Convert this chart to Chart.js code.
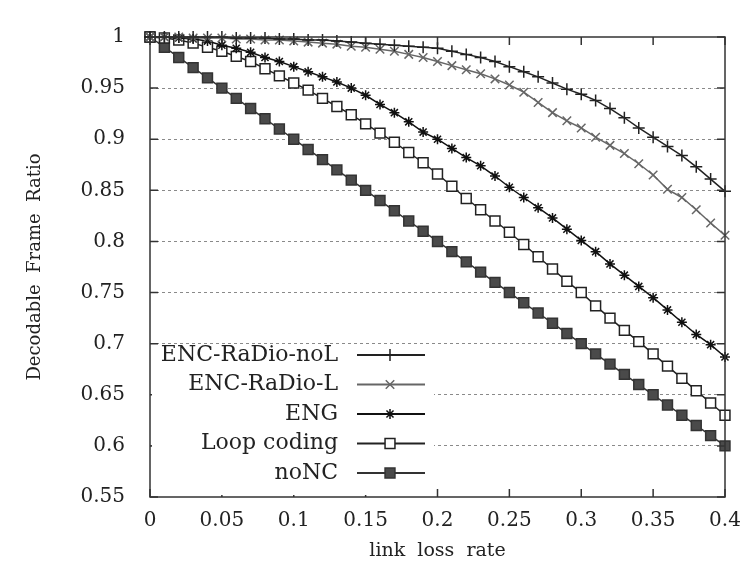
<!DOCTYPE html>
<html>
<head>
<meta charset="utf-8">
<script src="https://cdn.jsdelivr.net/npm/chart.js@4/dist/chart.umd.min.js"></script>
<style>
  body { margin: 0; background: #fff; }
  canvas { display: block; }
</style>
</head>
<body>
<canvas id="ratio" width="753" height="562"></canvas>
<script>
// link loss rate, one point every 0.01
const lossRate = [0, 0.01, 0.02, 0.03, 0.04, 0.05, 0.06, 0.07, 0.08, 0.09,
    0.1, 0.11, 0.12, 0.13, 0.14, 0.15, 0.16, 0.17, 0.18, 0.19,
    0.2, 0.21, 0.22, 0.23, 0.24, 0.25, 0.26, 0.27, 0.28, 0.29,
    0.3, 0.31, 0.32, 0.33, 0.34, 0.35, 0.36, 0.37, 0.38, 0.39, 0.4]

const encNoL = [1.000, 1.000, 1.000, 1.000, 1.000, 1.000, 0.999, 0.999, 0.999, 0.998,
    0.998, 0.997, 0.997, 0.996, 0.995, 0.994, 0.993, 0.992, 0.991, 0.990,
    0.989, 0.986, 0.983, 0.980, 0.976, 0.971, 0.966, 0.961, 0.955, 0.949,
    0.944, 0.938, 0.930, 0.921, 0.911, 0.902, 0.893, 0.884, 0.873, 0.861, 0.849]
const encL = [1.000, 1.000, 1.000, 0.999, 0.999, 0.999, 0.998, 0.998, 0.997, 0.997,
    0.996, 0.995, 0.994, 0.993, 0.991, 0.990, 0.988, 0.986, 0.983, 0.980,
    0.976, 0.972, 0.968, 0.964, 0.959, 0.953, 0.946, 0.936, 0.926, 0.918,
    0.911, 0.902, 0.894, 0.886, 0.876, 0.865, 0.851, 0.843, 0.831, 0.818, 0.806]
const eng = [1.000, 1.000, 0.999, 0.998, 0.996, 0.992, 0.989, 0.985, 0.980, 0.976,
    0.971, 0.966, 0.961, 0.956, 0.950, 0.943, 0.934, 0.926, 0.917, 0.907,
    0.900, 0.891, 0.882, 0.874, 0.864, 0.853, 0.843, 0.833, 0.823, 0.812,
    0.801, 0.790, 0.778, 0.767, 0.756, 0.745, 0.733, 0.721, 0.709, 0.699, 0.687]
const loopCoding = [1.000, 0.999, 0.997, 0.994, 0.990, 0.986, 0.981, 0.976, 0.969, 0.962,
    0.955, 0.948, 0.940, 0.932, 0.924, 0.915, 0.906, 0.897, 0.887, 0.877,
    0.866, 0.854, 0.842, 0.831, 0.820, 0.809, 0.797, 0.785, 0.773, 0.761,
    0.750, 0.737, 0.725, 0.713, 0.702, 0.690, 0.678, 0.666, 0.654, 0.642, 0.630]
const noNC = [1.00, 0.99, 0.98, 0.97, 0.96, 0.95, 0.94, 0.93, 0.92, 0.91,
    0.90, 0.89, 0.88, 0.87, 0.86, 0.85, 0.84, 0.83, 0.82, 0.81,
    0.80, 0.79, 0.78, 0.77, 0.76, 0.75, 0.74, 0.73, 0.72, 0.71,
    0.70, 0.69, 0.68, 0.67, 0.66, 0.65, 0.64, 0.63, 0.62, 0.61, 0.60]

const xTickLabels = ['0', '0.05', '0.1', '0.15', '0.2', '0.25', '0.3', '0.35', '0.4']
const yTickLabels = ['0.55', '0.6', '0.65', '0.7', '0.75', '0.8', '0.85', '0.9', '0.95', '1']

const toPoints = (ys) => ys.map((y, i) => ({ x: lossRate[i], y: y }))

Chart.defaults.font.family = '"DejaVu Serif", serif'
Chart.defaults.color = '#222'

// frame with gnuplot style inward ticks
const framePlugin = {
    id: 'frame',
    afterDatasetsDraw(chart) {
        const ctx = chart.ctx
        const a = chart.chartArea
        const xs = chart.scales.x
        const ys = chart.scales.y
        ctx.save()
        ctx.strokeStyle = '#333'
        ctx.lineWidth = 1.5
        ctx.beginPath()
        xs.ticks.forEach((t) => {
            const px = xs.getPixelForValue(t.value)
            ctx.moveTo(px, a.bottom); ctx.lineTo(px, a.bottom - 8)
            ctx.moveTo(px, a.top); ctx.lineTo(px, a.top + 8)
        })
        ys.ticks.forEach((t) => {
            const py = ys.getPixelForValue(t.value)
            ctx.moveTo(a.left, py); ctx.lineTo(a.left + 8, py)
            ctx.moveTo(a.right, py); ctx.lineTo(a.right - 8, py)
        })
        ctx.stroke()
        ctx.strokeRect(a.left, a.top, a.right - a.left, a.bottom - a.top)
        ctx.restore()
    },
}

// legend inside the plot, text on the left of the sample
const legendPlugin = {
    id: 'insideLegend',
    afterDatasetsDraw(chart) {
        const ctx = chart.ctx
        const a = chart.chartArea
        ctx.save()
        ctx.fillStyle = '#fff'
        ctx.fillRect(a.left + 2, a.bottom - 150, 282, 148)
        chart.data.datasets.forEach((ds, i) => {
            const y = a.bottom - 142 + i * 29.5
            ctx.font = '22px "DejaVu Serif"'
            ctx.textAlign = 'right'
            ctx.textBaseline = 'middle'
            ctx.fillStyle = '#222'
            ctx.fillText(ds.label, a.left + 188, y)
            ctx.strokeStyle = ds.borderColor
            ctx.lineWidth = 2
            ctx.beginPath()
            ctx.moveTo(a.left + 207, y)
            ctx.lineTo(a.left + 275, y)
            ctx.stroke()
            ctx.fillStyle = ds.pointBackgroundColor
            ctx.strokeStyle = ds.pointBorderColor
            ctx.lineWidth = 1.5
            Chart.helpers.drawPoint(ctx, {
                pointStyle: ds.pointStyle,
                radius: ds.pointRadius,
                borderWidth: 1.5,
                rotation: 0,
            }, a.left + 240, y)
        })
        ctx.restore()
    },
}

const lineConfig = {
    type: 'line',
    data: {
        datasets: [
            {
                label: 'ENC-RaDio-noL',
                data: toPoints(encNoL),
                borderColor: '#222',
                pointBorderColor: '#222',
                pointBackgroundColor: '#222',
                pointStyle: 'cross',
                pointRadius: 6,
            },
            {
                label: 'ENC-RaDio-L',
                data: toPoints(encL),
                borderColor: '#666',
                pointBorderColor: '#666',
                pointBackgroundColor: '#666',
                pointStyle: 'crossRot',
                pointRadius: 6,
            },
            {
                label: 'ENG',
                data: toPoints(eng),
                borderColor: '#111',
                pointBorderColor: '#111',
                pointBackgroundColor: '#111',
                pointStyle: 'star',
                pointRadius: 5,
            },
            {
                label: 'Loop coding',
                data: toPoints(loopCoding),
                borderColor: '#222',
                pointBorderColor: '#222',
                pointBackgroundColor: '#fff',
                pointStyle: 'rect',
                pointRadius: 7,
            },
            {
                label: 'noNC',
                data: toPoints(noNC),
                borderColor: '#333',
                pointBorderColor: '#333',
                pointBackgroundColor: '#4a4a4a',
                pointStyle: 'rect',
                pointRadius: 7,
            },
        ],
    },
    options: {
        responsive: false,
        animation: false,
        layout: { padding: { top: 30, right: 28, left: 0, bottom: 0 } },
        elements: {
            line: { borderWidth: 1.5, tension: 0 },
            point: { borderWidth: 1.5, hoverRadius: 7 },
        },
        datasets: { line: { clip: false, pointBorderWidth: 1.5 } },
        plugins: {
            legend: { display: false },
            tooltip: { enabled: false },
        },
        scales: {
            x: {
                type: 'linear',
                min: 0,
                max: 0.4,
                afterFit: (s) => { s.height = 65 },
                grid: { display: false, drawTicks: false },
                border: { display: false },
                ticks: {
                    stepSize: 0.05,
                    padding: 12,
                    font: { size: 20 },
                    callback: (v, i) => xTickLabels[i],
                },
                title: {
                    display: true,
                    text: 'link  loss  rate',
                    font: { size: 19 },
                    padding: { top: 1, bottom: 0 },
                },
            },
            y: {
                min: 0.55,
                max: 1,
                afterFit: (s) => { s.width = 150 },
                grid: {
                    drawTicks: false,
                    lineWidth: 1,
                    color: (c) => (c.tick && (c.tick.value <= 0.551 || c.tick.value >= 0.999)) ? 'rgba(0,0,0,0)' : '#8a8a8a',
                },
                border: { display: false, dash: [3, 3] },
                ticks: {
                    stepSize: 0.05,
                    padding: 25,
                    font: { size: 20 },
                    callback: (v, i) => yTickLabels[i],
                },
                title: {
                    display: true,
                    text: 'Decodable  Frame  Ratio',
                    font: { size: 18 },
                    padding: { top: 25, bottom: 0 },
                },
            },
        },
    },
    plugins: [framePlugin, legendPlugin],
}

const ratioCtx = document.getElementById('ratio')
window.myLine = new Chart(ratioCtx, lineConfig)
</script>
</body>
</html>
